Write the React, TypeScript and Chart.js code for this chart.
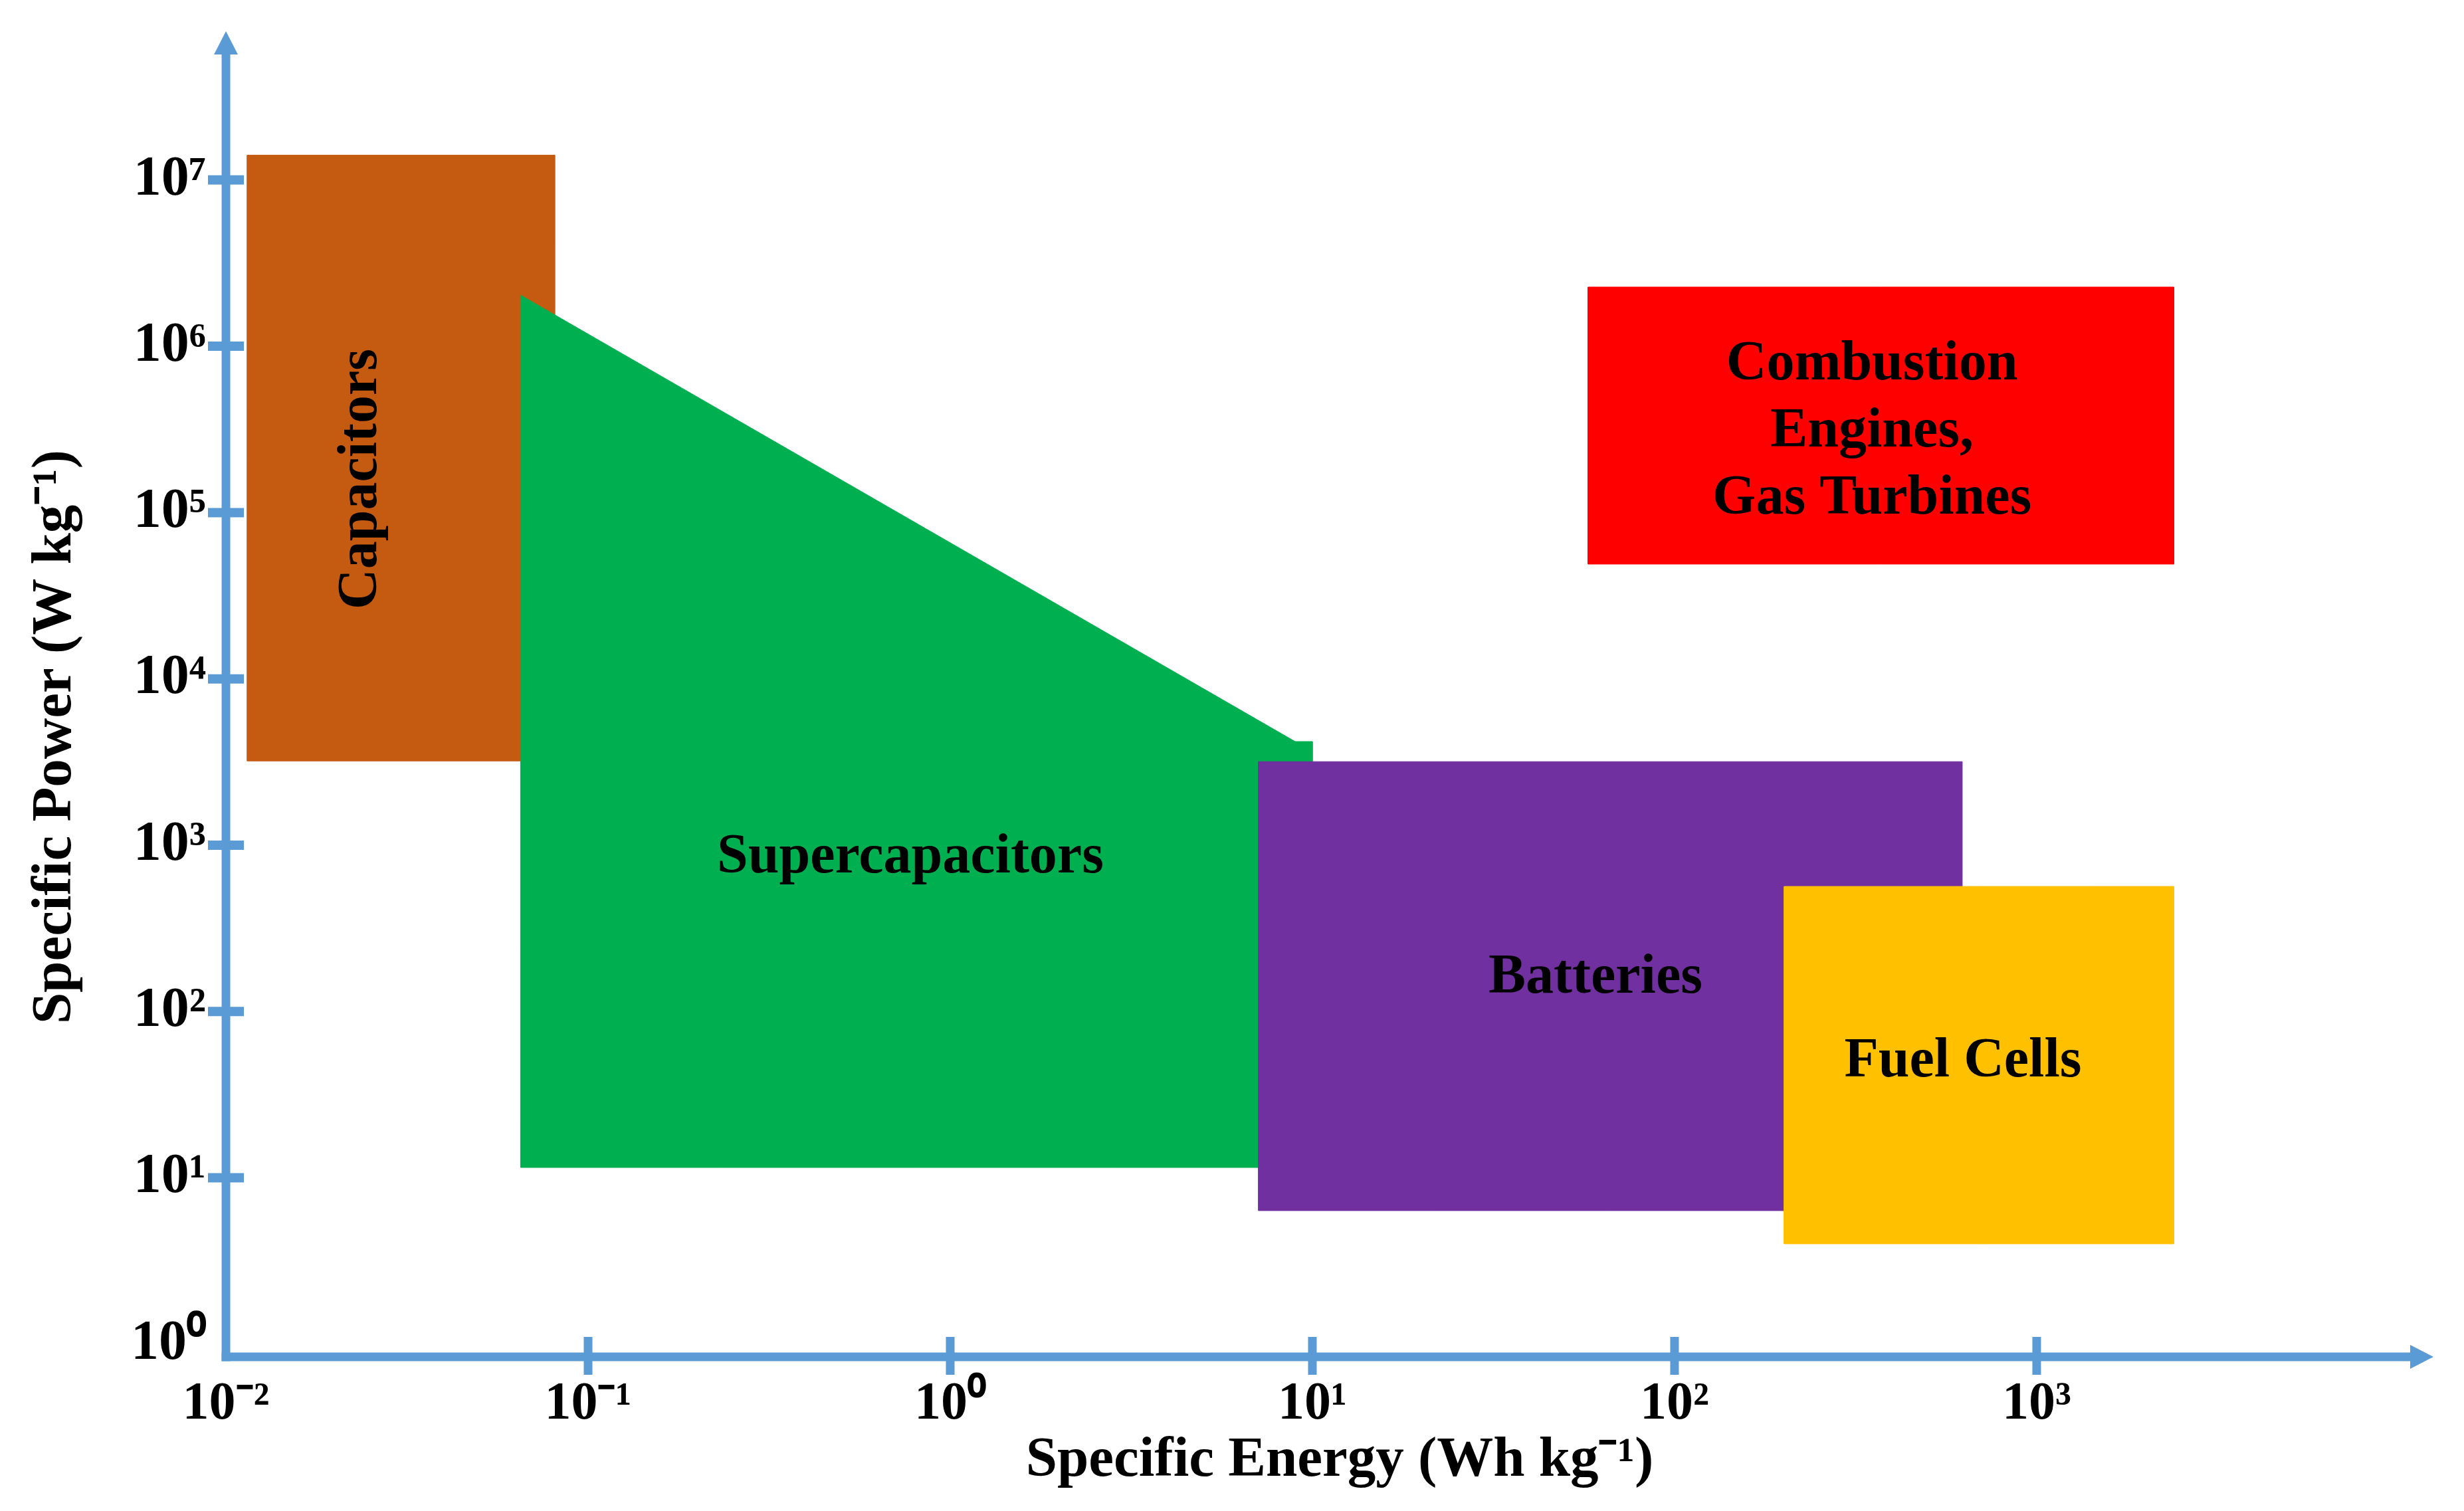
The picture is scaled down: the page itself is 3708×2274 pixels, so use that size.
import React, { useEffect, useRef } from "react";
import { Chart, registerables } from "chart.js";

Chart.register(...registerables);

// ---------- data ----------
const categories = ["Capacitors", "Supercapacitors", "Batteries", "Fuel Cells", "Combustion Engines, Gas Turbines"];

// polygon outlines (Specific Energy Wh/kg , Specific Power W/kg)
const capacitorsX = [0.01145, 0.081, 0.081, 0.01145, 0.01145];
const capacitorsY = [3210, 3210, 1.41e7, 1.41e7, 3210];

const supercapacitorsX = [0.0651, 0.0651, 8.96, 10.0, 10.0, 0.0651];
const supercapacitorsY = [11.54, 2.03e6, 4200, 4200, 11.54, 11.54];

const batteriesX = [7.1, 623, 623, 7.1, 7.1];
const batteriesY = [6.35, 6.35, 3180, 3180, 6.35];

const fuelCellsX = [200.8, 2393, 2393, 200.8, 200.8];
const fuelCellsY = [4.01, 4.01, 565, 565, 4.01];

const combustionX = [57.7, 2393, 2393, 57.7, 57.7];
const combustionY = [4.9e4, 4.9e4, 2.27e6, 2.27e6, 4.9e4];

// region labels
const labelLines = [["Capacitors"], ["Supercapacitors"], ["Batteries"], ["Fuel Cells"], ["Combustion", "Engines,", "Gas Turbines"]];
const labelX = [0.0237, 0.776, 60.5, 625.8, 351];
const labelY = [1.59e5, 835, 159, 49.8, 3.06e5];
const labelRotation = [-90, 0, 0, 0, 0];

// axes
const xTickValues = [0.01, 0.1, 1, 10, 100, 1000];
const xTickLabels = ["10⁻²", "10⁻¹", "10⁰", "10¹", "10²", "10³"];
const yTickValues = [1, 10, 100, 1000, 1e4, 1e5, 1e6, 1e7];
const yTickLabels = ["10⁰", "10¹", "10²", "10³", "10⁴", "10⁵", "10⁶", "10⁷"];
const xRange = [0.01, 14145];
const yRange = [0.8387, 2.392e7];
const xArrowEnd = 12460;
const yArrowEnd = 7.83e7;

// ---------- styles ----------
const COLORS = ["#C55A11", "#00B050", "#7030A0", "#FFC000", "#FF0000"];
const ORDERS = [3, 2, 1, 0, 4];
const AXIS_COLOR = "#5B9BD5";
const FAMILY = '"Liberation Serif", "Times New Roman", Times, serif';
const LABEL_FONT = 84;
const LABEL_LINE_H = 101;

const shapeX = [capacitorsX, supercapacitorsX, batteriesX, fuelCellsX, combustionX];
const shapeY = [capacitorsY, supercapacitorsY, batteriesY, fuelCellsY, combustionY];

const labelPlugin = {
  id: "regionLabels",
  afterDatasetsDraw(chart: any) {
    const { ctx, scales } = chart;
    const xs = scales.x;
    const ys = scales.y;
    ctx.save();
    ctx.fillStyle = "#000";
    ctx.font = `bold ${LABEL_FONT}px ${FAMILY}`;
    ctx.textAlign = "center";
    ctx.textBaseline = "middle";
    labelLines.forEach((lines, i) => {
      const px = xs.getPixelForValue(labelX[i]);
      const py = ys.getPixelForValue(labelY[i]);
      ctx.save();
      ctx.translate(px, py);
      ctx.rotate((labelRotation[i] * Math.PI) / 180);
      lines.forEach((t, j) => {
        ctx.fillText(t, 0, (j - (lines.length - 1) / 2) * LABEL_LINE_H);
      });
      ctx.restore();
    });
    ctx.restore();
  },
};

const axisPlugin = {
  id: "arrowAxes",
  afterDraw(chart: any) {
    const { ctx, chartArea, scales } = chart;
    const xs = scales.x;
    const ys = scales.y;
    const ox = chartArea.left;
    const oy = chartArea.bottom;
    const tipX = xs.getPixelForValue(xArrowEnd);
    const tipY = ys.getPixelForValue(yArrowEnd);
    const lw = 13;
    const headLen = 35;
    const headHalf = 18;
    ctx.save();
    ctx.strokeStyle = AXIS_COLOR;
    ctx.fillStyle = AXIS_COLOR;
    ctx.lineWidth = lw;
    ctx.lineCap = "butt";
    // y axis
    ctx.beginPath();
    ctx.moveTo(ox, oy + lw / 2);
    ctx.lineTo(ox, tipY + headLen);
    ctx.stroke();
    // x axis
    ctx.beginPath();
    ctx.moveTo(ox - lw / 2, oy);
    ctx.lineTo(tipX - headLen + 1, oy);
    ctx.stroke();
    // arrow heads
    ctx.beginPath();
    ctx.moveTo(ox, tipY);
    ctx.lineTo(ox - headHalf, tipY + headLen);
    ctx.lineTo(ox + headHalf, tipY + headLen);
    ctx.closePath();
    ctx.fill();
    ctx.beginPath();
    ctx.moveTo(tipX, oy);
    ctx.lineTo(tipX - headLen, oy - headHalf);
    ctx.lineTo(tipX - headLen, oy + headHalf);
    ctx.closePath();
    ctx.fill();
    // tick marks
    ctx.lineWidth = 13;
    xTickValues.slice(1).forEach((v) => {
      const px = xs.getPixelForValue(v);
      ctx.beginPath();
      ctx.moveTo(px, oy - 30);
      ctx.lineTo(px, oy + 27);
      ctx.stroke();
    });
    ctx.lineWidth = 14;
    yTickValues.slice(1).forEach((v) => {
      const py = ys.getPixelForValue(v);
      ctx.beginPath();
      ctx.moveTo(ox - 27, py);
      ctx.lineTo(ox + 27, py);
      ctx.stroke();
    });
    ctx.restore();
  },
};

export default function App() {
  const ref = useRef<HTMLCanvasElement>(null);
  useEffect(() => {
    const canvas = ref.current;
    if (!canvas) return;
    const chart = new Chart(canvas, {
      type: "scatter",
      data: {
        datasets: categories.map((name, i) => ({
          label: name,
          data: shapeX[i].map((x, k) => ({ x, y: shapeY[i][k] })),
          showLine: true,
          fill: "shape",
          backgroundColor: COLORS[i],
          borderColor: COLORS[i],
          borderWidth: 1,
          pointRadius: 0,
          pointHoverRadius: 0,
          tension: 0,
          order: ORDERS[i],
        })),
      } as any,
      options: {
        animation: false,
        responsive: false,
        devicePixelRatio: 1,
        events: [],
        layout: { padding: { top: 168, right: 8, left: 0, bottom: 0 } },
        plugins: {
          legend: { display: false },
          tooltip: { enabled: false },
          filler: { drawTime: "beforeDatasetDraw" } as any,
        },
        scales: {
          x: {
            type: "logarithmic",
            min: xRange[0],
            max: xRange[1],
            bounds: "data",
            grid: { display: false, drawTicks: false },
            border: { display: false },
            afterBuildTicks: (scale: any) => {
              scale.ticks = xTickValues.map((v) => ({ value: v }));
            },
            afterFit: (scale: any) => {
              scale.height = 224;
            },
            ticks: {
              autoSkip: false,
              maxRotation: 0,
              minRotation: 0,
              padding: 24,
              color: "#000",
              font: { family: FAMILY, size: 80, weight: "bold" },
              callback: (_v: any, i: number) => xTickLabels[i],
            },
            title: {
              display: true,
              text: "Specific Energy (Wh kg⁻¹)",
              color: "#000",
              font: { family: FAMILY, size: 85, weight: "bold" },
              padding: { top: 0, bottom: 16 },
            },
          },
          y: {
            type: "logarithmic",
            min: yRange[0],
            max: yRange[1],
            bounds: "data",
            grid: { display: false, drawTicks: false },
            border: { display: false },
            afterBuildTicks: (scale: any) => {
              scale.ticks = yTickValues.map((v) => ({ value: v }));
            },
            afterFit: (scale: any) => {
              scale.width = 332;
            },
            ticks: {
              autoSkip: false,
              padding: 30,
              color: "#000",
              font: { family: FAMILY, size: 84, weight: "bold" },
              callback: (_v: any, i: number) => yTickLabels[i],
            },
            title: {
              display: true,
              text: "Specific Power (W kg⁻¹)",
              color: "#000",
              font: { family: FAMILY, size: 85, weight: "bold" },
              padding: { top: 25, bottom: 0 },
            },
          },
        },
      } as any,
      plugins: [labelPlugin, axisPlugin],
    });
    return () => chart.destroy();
  }, []);
  return (
    <canvas
      ref={ref}
      width={3692}
      height={2258}
      style={{ display: "block", width: "3692px", height: "2258px" }}
    />
  );
}
